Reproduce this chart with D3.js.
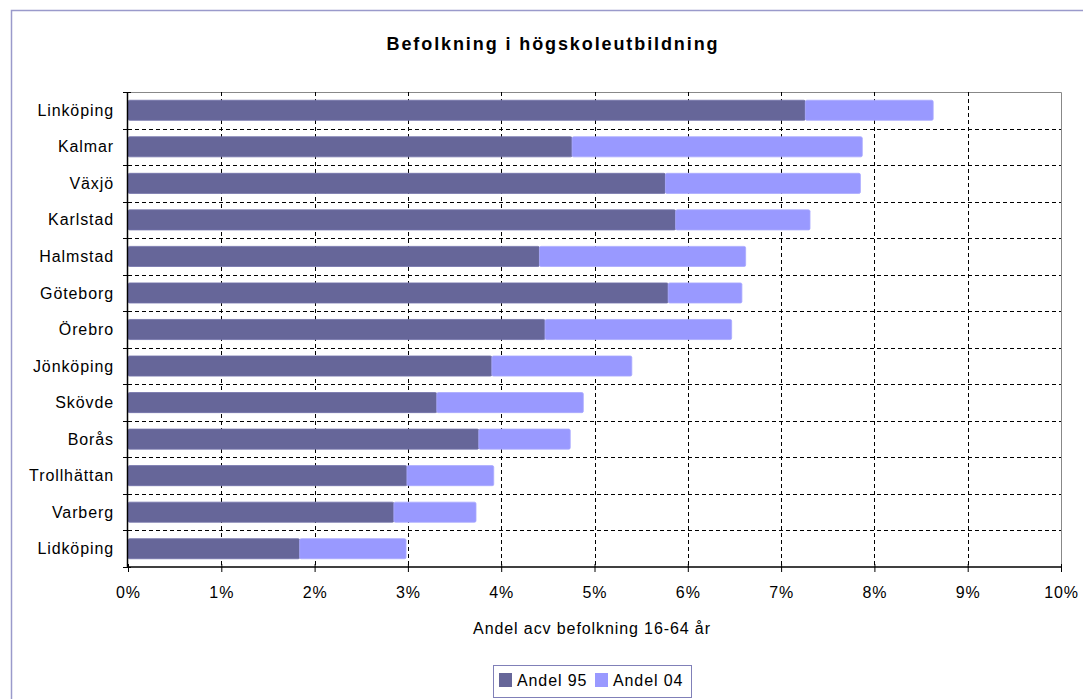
<!DOCTYPE html>
<html lang="sv">
<head>
<meta charset="utf-8">
<script src="https://cdn.jsdelivr.net/npm/d3@7"></script>
<style>
  body { margin: 0; background: #fff; }
  text { font-family: "Liberation Sans", Arial, sans-serif; fill: #000; font-size: 16px; letter-spacing: 0.9px; }
  .grid line { stroke: #000; stroke-dasharray: 4 3; stroke-width: 1; }
</style>
</head>
<body>
<svg id="chart" width="1083" height="699"></svg>
<script>
  // städer, uppifrån och ned
  var cities = ["Linköping", "Kalmar", "Växjö", "Karlstad", "Halmstad", "Göteborg", "Örebro",
                "Jönköping", "Skövde", "Borås", "Trollhättan", "Varberg", "Lidköping"];
  // andel 1995 (%)
  var andel95 = [7.26, 4.76, 5.76, 5.87, 4.41, 5.79, 4.47, 3.90, 3.31, 3.76, 2.99, 2.85, 1.84];
  // tillskott fram till 2004 (%), staplas efter andel 95
  var andel04 = [1.37, 3.11, 2.09, 1.44, 2.21, 0.79, 2.00, 1.50, 1.57, 0.98, 0.93, 0.88, 1.14];
  var xTicks = [0, 1, 2, 3, 4, 5, 6, 7, 8, 9, 10];
  var seriesNames = ["Andel 95", "Andel 04"];
  var colors = ["#666699", "#9999ff"];

  var svg = d3.select("#chart");
  var pLeft = 128, pRight = 1061, pTop = 92, pBottom = 567;

  // yttre ram (höger och nederkant ligger utanför bilden)
  svg.append("rect")
    .attr("x", 11.5).attr("y", 10.5)
    .attr("width", 1100).attr("height", 720)
    .attr("fill", "none").attr("stroke", "#9a9acb").attr("stroke-width", 1.5);

  svg.append("text")
    .attr("x", 553).attr("y", 50)
    .attr("text-anchor", "middle")
    .style("font-size", "18px").style("font-weight", "bold").style("letter-spacing", "1.9px")
    .text("Befolkning i högskoleutbildning");

  var x = d3.scaleLinear().domain([0, 10]).range([pLeft, pRight]);
  var y = d3.scaleBand().domain(cities).range([pTop, pBottom]).paddingInner(0.45).paddingOuter(0.225);
  var band = d3.scaleBand().domain(cities).range([pTop, pBottom]);

  var rows = cities.map(function(c, i) {
    return { city: c, a95: andel95[i], a04: andel04[i] };
  });
  var stacked = d3.stack().keys(["a95", "a04"])(rows);

  // plotyta, grå ram upp och höger
  svg.append("path")
    .attr("d", "M" + pLeft + "," + (pTop + 0.5) + "H" + (pRight + 0.5) + "V" + pBottom)
    .attr("fill", "none").attr("stroke", "#888");

  // vertikala stödlinjer
  svg.append("g").attr("class", "grid")
    .selectAll("line")
    .data(xTicks.slice(1, -1))
    .join("line")
    .attr("x1", function(d) { return Math.round(x(d)) + 0.5; })
    .attr("x2", function(d) { return Math.round(x(d)) + 0.5; })
    .attr("y1", pTop).attr("y2", pBottom);

  // horisontella stödlinjer mellan städerna
  svg.append("g").attr("class", "grid")
    .selectAll("line")
    .data(cities.slice(1))
    .join("line")
    .attr("x1", pLeft).attr("x2", pRight)
    .attr("y1", function(d) { return Math.round(band(d)) + 0.5; })
    .attr("y2", function(d) { return Math.round(band(d)) + 0.5; });

  // staplar
  svg.append("g")
    .selectAll("g")
    .data(stacked)
    .join("g")
    .attr("fill", function(d, i) { return colors[i]; })
    .attr("stroke", function(d, i) { return d3.color(colors[i]).brighter(0.3); })
    .selectAll("rect")
    .data(function(d) { return d; })
    .join("rect")
    .attr("x", function(d) { return x(d[0]); })
    .attr("y", function(d) { return y(d.data.city); })
    .attr("width", function(d) { return x(d[1]) - x(d[0]); })
    .attr("height", y.bandwidth())
    .attr("rx", 1.5)
    .attr("stroke-width", 0.8);

  // x-axel
  var xAxis = d3.axisBottom(x)
    .tickValues(xTicks)
    .tickSize(5)
    .tickFormat(function(d) { return d + "%"; });
  var gx = svg.append("g")
    .attr("transform", "translate(0," + pBottom + ")")
    .call(xAxis);
  gx.select(".domain").attr("stroke", "#000").attr("stroke-width", 1.5).attr("d", "M" + pLeft + ",0H" + pRight);
  gx.selectAll(".tick line").attr("stroke", "#000").attr("y1", -3);
  gx.selectAll(".tick text").attr("dy", 0).attr("y", 31)
    .attr("font-size", null).attr("font-family", null).style("font-size", "16px");

  // y-axel
  var gy = svg.append("g").attr("transform", "translate(" + pLeft + ",0)");
  gy.append("line")
    .attr("x1", -0.5).attr("x2", -0.5)
    .attr("y1", pTop).attr("y2", pBottom)
    .attr("stroke", "#000").attr("stroke-width", 1.5);
  gy.selectAll("line.tk")
    .data(cities.concat(["__end"]))
    .join("line")
    .attr("class", "tk")
    .attr("x1", -5).attr("x2", 3)
    .attr("y1", function(d, i) { return Math.round(pTop + i * band.bandwidth()) + 0.5; })
    .attr("y2", function(d, i) { return Math.round(pTop + i * band.bandwidth()) + 0.5; })
    .attr("stroke", "#000");
  gy.selectAll("text")
    .data(cities)
    .join("text")
    .attr("x", -14)
    .attr("y", function(d) { return band(d) + band.bandwidth() / 2; })
    .attr("dy", "0.35em")
    .attr("text-anchor", "end")
    .text(function(d) { return d; });

  svg.append("text")
    .attr("x", 592).attr("y", 634)
    .attr("text-anchor", "middle")
    .text("Andel acv befolkning 16-64 år");

  // förklaring
  var lg = svg.append("g");
  lg.append("rect")
    .attr("x", 493.5).attr("y", 665.5).attr("width", 198).attr("height", 32)
    .attr("fill", "#fff").attr("stroke", "#8080b8");
  var items = lg.selectAll("g")
    .data(seriesNames)
    .join("g")
    .attr("transform", function(d, i) { return "translate(" + (499 + i * 96) + ",673)"; });
  items.append("rect")
    .attr("width", 13).attr("height", 14)
    .attr("fill", function(d, i) { return colors[i]; });
  items.append("text")
    .attr("x", 18).attr("y", 13)
    .text(function(d) { return d; });
</script>
</body>
</html>
